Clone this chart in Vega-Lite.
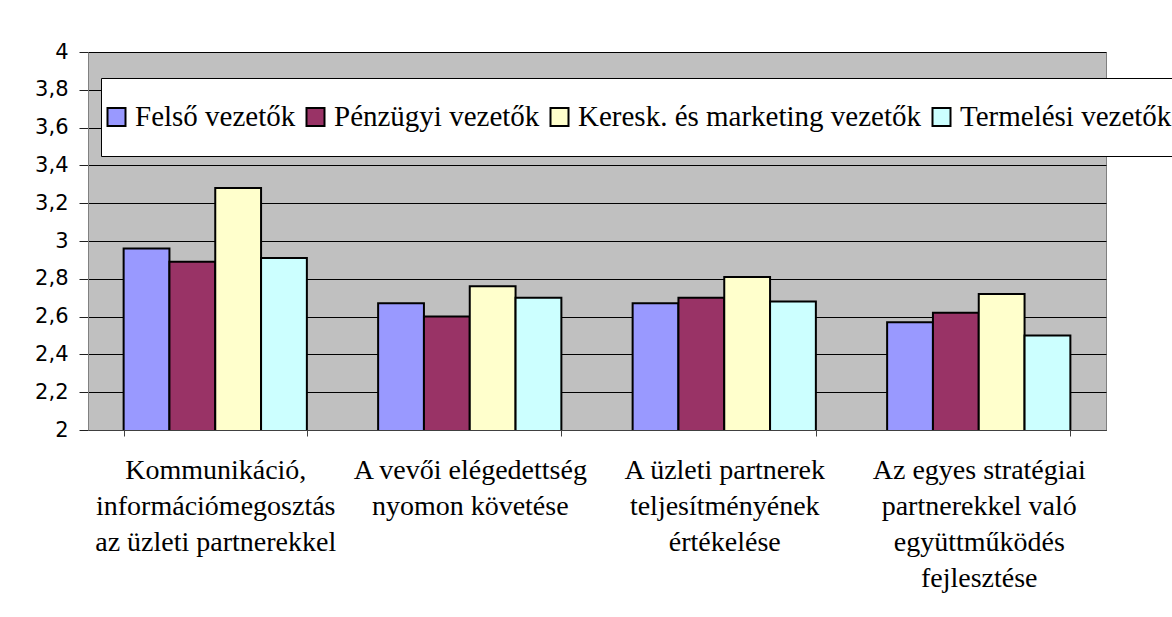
{
  "$schema": "https://vega.github.io/schema/vega-lite/v6.json",
  "autosize": {"type": "none"},
  "padding": {"left": 88, "top": 52, "right": 66, "bottom": 187},
  "width": 1018,
  "height": 378,
  "background": "white",
  "data": {
    "values": [
      {"category": "Kommunikáció,\ninformációmegosztás\naz üzleti partnerekkel", "group": "Felső vezetők", "value": 2.96},
      {"category": "Kommunikáció,\ninformációmegosztás\naz üzleti partnerekkel", "group": "Pénzügyi vezetők", "value": 2.89},
      {"category": "Kommunikáció,\ninformációmegosztás\naz üzleti partnerekkel", "group": "Keresk. és marketing vezetők", "value": 3.28},
      {"category": "Kommunikáció,\ninformációmegosztás\naz üzleti partnerekkel", "group": "Termelési vezetők", "value": 2.91},
      {"category": "A vevői elégedettség\nnyomon követése", "group": "Felső vezetők", "value": 2.67},
      {"category": "A vevői elégedettség\nnyomon követése", "group": "Pénzügyi vezetők", "value": 2.6},
      {"category": "A vevői elégedettség\nnyomon követése", "group": "Keresk. és marketing vezetők", "value": 2.76},
      {"category": "A vevői elégedettség\nnyomon követése", "group": "Termelési vezetők", "value": 2.7},
      {"category": "A üzleti partnerek\nteljesítményének\nértékelése", "group": "Felső vezetők", "value": 2.67},
      {"category": "A üzleti partnerek\nteljesítményének\nértékelése", "group": "Pénzügyi vezetők", "value": 2.7},
      {"category": "A üzleti partnerek\nteljesítményének\nértékelése", "group": "Keresk. és marketing vezetők", "value": 2.81},
      {"category": "A üzleti partnerek\nteljesítményének\nértékelése", "group": "Termelési vezetők", "value": 2.68},
      {"category": "Az egyes stratégiai\npartnerekkel való\negyüttműködés\nfejlesztése", "group": "Felső vezetők", "value": 2.57},
      {"category": "Az egyes stratégiai\npartnerekkel való\negyüttműködés\nfejlesztése", "group": "Pénzügyi vezetők", "value": 2.62},
      {"category": "Az egyes stratégiai\npartnerekkel való\negyüttműködés\nfejlesztése", "group": "Keresk. és marketing vezetők", "value": 2.72},
      {"category": "Az egyes stratégiai\npartnerekkel való\negyüttműködés\nfejlesztése", "group": "Termelési vezetők", "value": 2.5}
    ]
  },
  "mark": {"type": "bar", "stroke": "black", "strokeWidth": 2, "clip": true},
  "encoding": {
    "x": {
      "field": "category",
      "type": "nominal",
      "sort": null,
      "scale": {"paddingInner": 0.28, "paddingOuter": 0.14},
      "axis": {
        "title": null,
        "labelAngle": 0,
        "labelExpr": "split(datum.label, '\\n')",
        "labelFont": "Liberation Serif",
        "labelFontSize": 28,
        "labelLineHeight": 36,
        "labelColor": "black",
        "labelPadding": 20,
        "labelLimit": 400,
        "labelBaseline": "top",
        "tickBand": "extent",
        "tickSize": 6,
        "tickColor": "#404040",
        "domainColor": "#404040",
        "grid": false
      }
    },
    "xOffset": {
      "field": "group",
      "type": "nominal",
      "sort": ["Felső vezetők", "Pénzügyi vezetők", "Keresk. és marketing vezetők", "Termelési vezetők"],
      "scale": {"paddingInner": 0, "paddingOuter": 0}
    },
    "y": {
      "field": "value",
      "type": "quantitative",
      "scale": {"domain": [2, 4], "zero": false, "nice": false},
      "axis": {
        "title": null,
        "values": [2, 2.2, 2.4, 2.6, 2.8, 3, 3.2, 3.4, 3.6, 3.8, 4],
        "labelExpr": "replace(format(datum.value, '.2~g'), '.', ',')",
        "labelFont": "DejaVu Sans",
        "labelFontSize": 21,
        "labelColor": "black",
        "labelPadding": 11,
        "tickSize": 9,
        "tickColor": "#202020",
        "domainColor": "#808080",
        "grid": true,
        "gridColor": "black",
        "gridWidth": 1
      }
    },
    "color": {
      "field": "group",
      "type": "nominal",
      "scale": {
        "domain": ["Felső vezetők", "Pénzügyi vezetők", "Keresk. és marketing vezetők", "Termelési vezetők"],
        "range": ["#9999FF", "#993366", "#FFFFCC", "#CCFFFF"]
      },
      "legend": {
        "title": null,
        "orient": "none",
        "legendX": 13,
        "legendY": 26,
        "direction": "horizontal",
        "fillColor": "white",
        "strokeColor": "black",
        "padding": 1,
        "clipHeight": 76,
        "columnPadding": 5,
        "symbolType": "square",
        "symbolSize": 324,
        "symbolStrokeColor": "black",
        "symbolStrokeWidth": 2,
        "symbolOpacity": 1,
        "labelFont": "Liberation Serif",
        "labelFontSize": 29,
        "labelColor": "black",
        "labelOffset": 4,
        "labelLimit": 1000
      }
    }
  },
  "config": {
    "view": {"fill": "#C0C0C0", "stroke": "#808080", "strokeWidth": 1},
    "legend": {"symbolFillColor": null}
  }
}
